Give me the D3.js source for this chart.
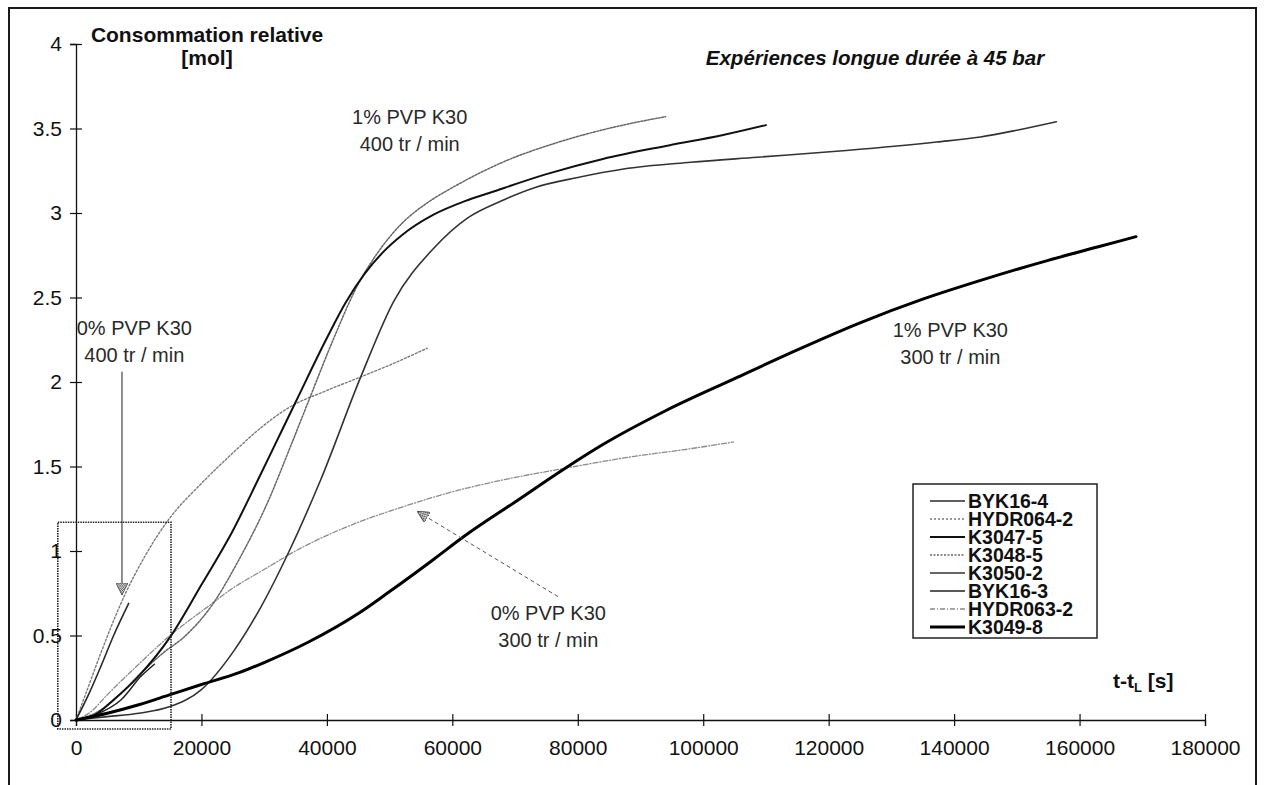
<!DOCTYPE html>
<html><head><meta charset="utf-8">
<script src="https://cdn.jsdelivr.net/npm/d3@7"></script>
<style>
html,body{margin:0;padding:0;background:#fff;}
svg{display:block;font-family:"Liberation Sans",Arial,Helvetica,sans-serif;}
</style></head>
<body>
<svg id="chart" width="1266" height="785"></svg>
<script>
// ---------- data ----------
const seriesNames = ["BYK16-4","HYDR064-2","K3047-5","K3048-5","K3050-2","BYK16-3","HYDR063-2","K3049-8"];

// BYK16-4 : 0% PVP, 400 rpm (short solid)
const byk16_4_t = [0, 2000, 4000, 6000, 8400];
const byk16_4_v = [0, 0.15, 0.32, 0.50, 0.69];

// HYDR064-2 : 0% PVP, 400 rpm (dotted)
const hydr064_2_t = [0, 2000, 4000, 7650, 11000, 14650, 20000, 25000, 29500, 34000, 40000, 45400, 50000, 56000];
const hydr064_2_v = [0, 0.20, 0.40, 0.73, 0.97, 1.18, 1.40, 1.58, 1.73, 1.85, 1.95, 2.03, 2.10, 2.20];

// K3047-5 : 1% PVP, 400 rpm (solid)
const k3047_5_t = [0, 3000, 6000, 10000, 15000, 20000, 25000, 29000, 32000, 35000, 40000, 43000, 46000, 49000, 52000, 57000, 62000, 66000, 75000, 84000, 94500, 103000, 110000];
const k3047_5_v = [0, 0.03, 0.12, 0.26, 0.49, 0.80, 1.12, 1.42, 1.65, 1.88, 2.26, 2.47, 2.64, 2.77, 2.87, 2.99, 3.07, 3.12, 3.23, 3.32, 3.40, 3.46, 3.52];

// K3048-5 : 1% PVP, 400 rpm (dotted)
const k3048_5_t = [0, 4000, 7000, 10400, 14000, 17200, 21500, 26000, 30700, 34000, 37000, 41000, 45000, 48000, 52000, 56000, 60000, 68000, 77000, 86000, 94000];
const k3048_5_v = [0, 0.06, 0.15, 0.28, 0.40, 0.49, 0.67, 0.95, 1.30, 1.60, 1.88, 2.25, 2.58, 2.76, 2.94, 3.06, 3.15, 3.30, 3.42, 3.51, 3.57];

// K3050-2 : 1% PVP, 400 rpm (solid, slower start)
const k3050_2_t = [0, 5000, 10000, 15000, 20000, 25000, 29500, 34000, 39000, 45400, 50700, 57000, 62400, 67700, 73100, 80000, 87300, 98000, 108600, 122800, 137200, 144200, 150000, 156300];
const k3050_2_v = [0, 0.02, 0.04, 0.08, 0.18, 0.40, 0.67, 1.00, 1.42, 2.03, 2.48, 2.79, 2.97, 3.07, 3.15, 3.21, 3.26, 3.30, 3.33, 3.37, 3.42, 3.45, 3.49, 3.54];

// BYK16-3 : short solid near origin
const byk16_3_t = [0, 3000, 7200, 10400, 12500];
const byk16_3_v = [0, 0.03, 0.12, 0.26, 0.33];

// HYDR063-2 : 0% PVP, 300 rpm (dash-dot)
const hydr063_2_t = [0, 2400, 5000, 10000, 15000, 21000, 25000, 29500, 36000, 45000, 52000, 60000, 68000, 78000, 89000, 97000, 104800];
const hydr063_2_v = [0, 0.05, 0.15, 0.33, 0.50, 0.67, 0.78, 0.88, 1.02, 1.17, 1.26, 1.35, 1.42, 1.49, 1.56, 1.60, 1.645];

// K3049-8 : 1% PVP, 300 rpm (thick)
const k3049_8_t = [0, 5000, 10000, 15000, 20000, 26000, 30000, 37000, 45000, 50000, 57000, 62000, 70000, 78000, 84000, 94000, 105000, 115000, 125000, 135000, 145000, 155000, 163000, 169000];
const k3049_8_v = [0, 0.04, 0.09, 0.15, 0.21, 0.28, 0.34, 0.46, 0.63, 0.76, 0.95, 1.09, 1.29, 1.49, 1.63, 1.83, 2.02, 2.19, 2.35, 2.49, 2.61, 2.72, 2.80, 2.86];

const xTicks = [0, 20000, 40000, 60000, 80000, 100000, 120000, 140000, 160000, 180000];
const yTicks = [0, 0.5, 1, 1.5, 2, 2.5, 3, 3.5, 4];

// ---------- styles ----------
const styles = {
  "BYK16-4":   {stroke:"#2a2a2a", width:1.6, dash:null},
  "HYDR064-2": {stroke:"#7a7a7a", width:1.4, dash:"2,2"},
  "K3047-5":   {stroke:"#111",    width:2.0, dash:null},
  "K3048-5":   {stroke:"#666",    width:1.5, dash:"2,1.5"},
  "K3050-2":   {stroke:"#333",    width:1.6, dash:null},
  "BYK16-3":   {stroke:"#222",    width:1.5, dash:null},
  "HYDR063-2": {stroke:"#8a8a8a", width:1.3, dash:"5,2,1,2"},
  "K3049-8":   {stroke:"#000",    width:3.0, dash:null}
};
const seriesData = {
  "BYK16-4":[byk16_4_t,byk16_4_v],
  "HYDR064-2":[hydr064_2_t,hydr064_2_v],
  "K3047-5":[k3047_5_t,k3047_5_v],
  "K3048-5":[k3048_5_t,k3048_5_v],
  "K3050-2":[k3050_2_t,k3050_2_v],
  "BYK16-3":[byk16_3_t,byk16_3_v],
  "HYDR063-2":[hydr063_2_t,hydr063_2_v],
  "K3049-8":[k3049_8_t,k3049_8_v]
};

const svg = d3.select("#chart");
const x = d3.scaleLinear().domain([0,180000]).range([76,1205]);
const y = d3.scaleLinear().domain([0,4]).range([720,44]);

// outer frame
svg.append("rect").attr("x",9).attr("y",8).attr("width",1247).attr("height",800)
  .attr("fill","none").attr("stroke","#1a1a1a").attr("stroke-width",2);

// axes
const fontTick = 21;
const gx = svg.append("g").attr("transform",`translate(0,${y(0)})`)
  .call(d3.axisBottom(x).tickValues(xTicks).tickFormat(d=>String(d)).tickSizeOuter(0).tickSize(6).tickPadding(14));
gx.select(".domain").attr("stroke","#111").attr("stroke-width",1.3);
gx.selectAll(".tick line").attr("y1",-6).attr("y2",6).attr("stroke","#111").attr("stroke-width",1.2);
gx.selectAll(".tick text").attr("font-size",fontTick).attr("fill","#111").attr("font-family","Liberation Sans, Arial, sans-serif");

const gy = svg.append("g").attr("transform",`translate(${x(0)},0)`)
  .call(d3.axisLeft(y).tickValues(yTicks).tickFormat(d=>String(d)).tickSizeOuter(0).tickSize(6).tickPadding(8));
gy.select(".domain").attr("stroke","#111").attr("stroke-width",1.3);
gy.selectAll(".tick line").attr("x1",-6).attr("x2",6).attr("stroke","#111").attr("stroke-width",1.2);
gy.selectAll(".tick text").attr("font-size",fontTick).attr("fill","#111").attr("font-family","Liberation Sans, Arial, sans-serif");

// curves
const line = d3.line().x(d=>x(d[0])).y(d=>y(d[1])).curve(d3.curveMonotoneX);
const order = ["HYDR063-2","HYDR064-2","K3048-5","BYK16-3","BYK16-4","K3050-2","K3047-5","K3049-8"];
order.forEach(name=>{
  const [t,v] = seriesData[name];
  const pts = t.map((tt,i)=>[tt,v[i]]);
  const s = styles[name];
  svg.append("path").datum(pts).attr("d",line).attr("fill","none")
    .attr("stroke",s.stroke).attr("stroke-width",s.width)
    .attr("stroke-dasharray",s.dash).attr("stroke-linejoin","round").attr("stroke-linecap","round");
});

// dotted box around early region
svg.append("rect").attr("x",x(-2900)).attr("y",y(1.17))
  .attr("width",x(15150)-x(-2900)).attr("height",y(-0.053)-y(1.17))
  .attr("fill","none").attr("stroke","#222").attr("stroke-width",1.6).attr("stroke-dasharray","1.5,1");

// arrowhead marker
const defs = svg.append("defs");
const pat = defs.append("pattern").attr("id","hatch").attr("patternUnits","userSpaceOnUse").attr("width",2).attr("height",2);
pat.append("rect").attr("width",2).attr("height",2).attr("fill","#fff");
pat.append("rect").attr("width",1).attr("height",1).attr("fill","#444");
pat.append("rect").attr("x",1).attr("y",1).attr("width",1).attr("height",1).attr("fill","#444");
defs.append("marker").attr("id","arr").attr("viewBox","0 0 10 10").attr("refX",10).attr("refY",5)
  .attr("markerWidth",12).attr("markerHeight",12).attr("markerUnits","userSpaceOnUse").attr("orient","auto")
  .append("path").attr("d","M0,0 L10,5 L0,10 Z").attr("fill","url(#hatch)").attr("stroke","#555").attr("stroke-width",0.8);

// arrow 1 (vertical)
svg.append("line").attr("x1",x(7330)).attr("y1",y(2.06)).attr("x2",x(7330)).attr("y2",y(0.74))
  .attr("stroke","#333").attr("stroke-width",1.1).attr("marker-end","url(#arr)");
// arrow 2 (diagonal)
svg.append("line").attr("x1",x(76850)).attr("y1",y(0.73)).attr("x2",x(54400)).attr("y2",y(1.235))
  .attr("stroke","#555").attr("stroke-width",1).attr("stroke-dasharray","4,3").attr("marker-end","url(#arr)");

// annotations
const annFont = 20;
function ann(tx, ty, lines){
  lines.forEach((l,i)=>{
    svg.append("text").attr("x",x(tx)).attr("y",y(ty)+i*27).attr("text-anchor","middle")
      .attr("font-size",annFont).attr("fill","#2a2a2a").text(l);
  });
}
ann(53200, 3.525, ["1% PVP K30","400 tr / min"]);
ann(9300, 2.28, ["0% PVP K30","400 tr / min"]);
ann(75300, 0.59, ["0% PVP K30","300 tr / min"]);
ann(139400, 2.265, ["1% PVP K30","300 tr / min"]);

// axis titles
svg.append("text").attr("x",207).attr("y",42).attr("text-anchor","middle").attr("font-size",21).attr("font-weight","bold").attr("fill","#111").text("Consommation relative");
svg.append("text").attr("x",207).attr("y",65).attr("text-anchor","middle").attr("font-size",21).attr("font-weight","bold").attr("fill","#111").text("[mol]");
const tl = svg.append("text").attr("x",1113).attr("y",688).attr("font-size",21).attr("font-weight","bold").attr("fill","#111");
tl.append("tspan").text("t-t");
tl.append("tspan").attr("font-size",13).attr("dy",4).text("L");
tl.append("tspan").attr("dy",-4).text(" [s]");

// title
svg.append("text").attr("x",875).attr("y",65).attr("text-anchor","middle").attr("font-size",20.5)
  .attr("font-weight","bold").attr("font-style","italic").attr("fill","#111").text("Expériences longue durée à 45 bar");

// legend
const lg = svg.append("g");
lg.append("rect").attr("x",913).attr("y",484).attr("width",184).attr("height",154)
  .attr("fill","#fff").attr("stroke","#222").attr("stroke-width",1.5);
seriesNames.forEach((name,i)=>{
  const cy = 501 + i*18;
  const s = styles[name];
  lg.append("line").attr("x1",930).attr("x2",965).attr("y1",cy).attr("y2",cy)
    .attr("stroke",s.stroke).attr("stroke-width",s.width).attr("stroke-dasharray",s.dash);
  lg.append("text").attr("x",968).attr("y",cy+6.5).attr("font-size",19.5).attr("font-weight","bold").attr("fill","#111").text(name);
});
</script>
</body></html>
